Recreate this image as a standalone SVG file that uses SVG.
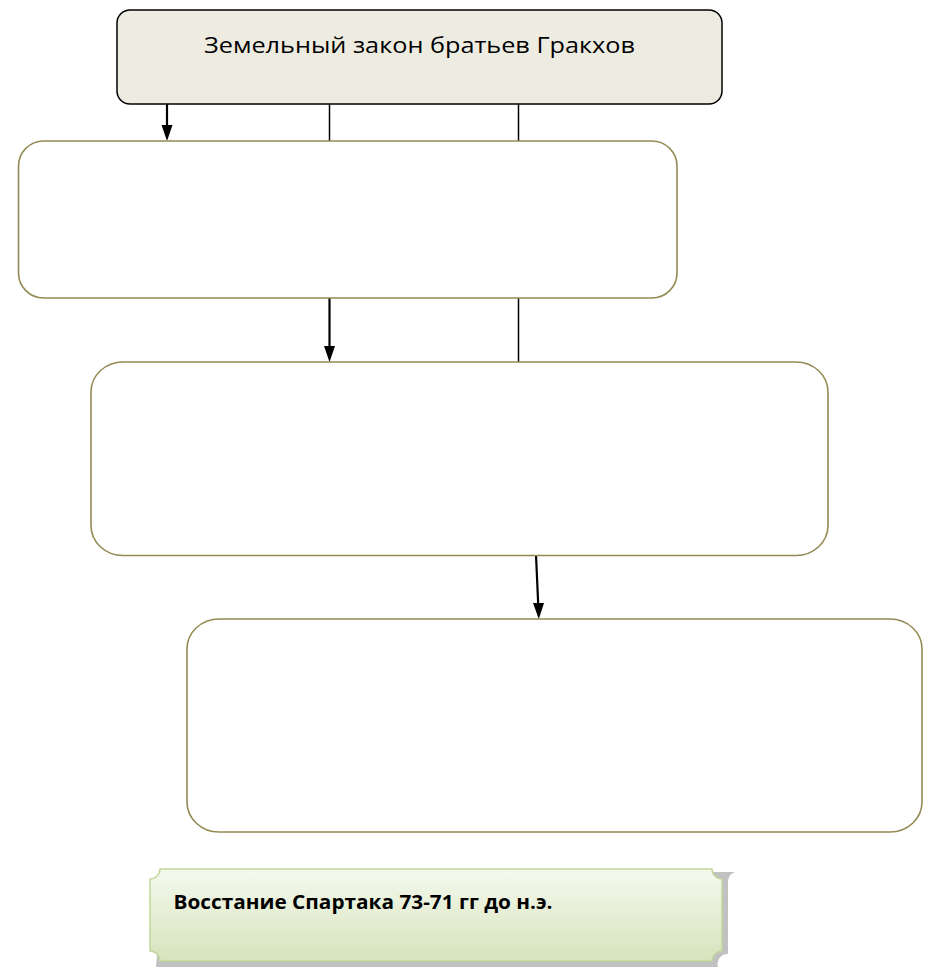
<svg xmlns="http://www.w3.org/2000/svg" width="932" height="970" viewBox="0 0 932 970">
  <defs>
    <linearGradient id="grn" x1="0" y1="0" x2="0" y2="1">
      <stop offset="0" stop-color="#f5f9ee"/>
      <stop offset="1" stop-color="#d6e3bc"/>
    </linearGradient>
    <style>
      .box { fill: #ffffff; stroke: #948a54; stroke-width: 1.6; }
      .top { fill: #eeece1; stroke: #000; stroke-width: 1.5; }
      .ln { stroke: #000; stroke-width: 1.5; fill: none; }
      .ar { stroke: #000; stroke-width: 2.2; fill: none; }
      .hd { fill: #000; }
      .t { font-family: "Open Sans", "Liberation Sans", sans-serif; fill: #000; }
    </style>
  </defs>
  <rect width="932" height="970" fill="#ffffff"/>

  <g id="connectors">
    <line class="ar" x1="167" y1="104" x2="167" y2="126" />
    <path class="hd" d="M161.5,125 L172.5,125 L167,141 Z"/>
    <line class="ln" x1="329.5" y1="104" x2="329.5" y2="141"/>
    <line class="ln" x1="518.5" y1="104" x2="518.5" y2="141"/>
    <line class="ar" x1="329.5" y1="298" x2="329.5" y2="347"/>
    <path class="hd" d="M324,346 L335,346 L329.5,362 Z"/>
    <line class="ln" x1="518.5" y1="298" x2="518.5" y2="362"/>
    <line class="ar" x1="536" y1="555" x2="538.2" y2="604"/>
    <path class="hd" d="M533,603 L544,603 L538.8,619 Z"/>
  </g>

  <g id="node-top">
    <rect class="top" x="117" y="10" width="605" height="94" rx="13" ry="13"/>
    <text class="t" x="419.5" y="53" font-size="21" text-anchor="middle" textLength="431" lengthAdjust="spacingAndGlyphs">Земельный закон братьев Гракхов</text>
  </g>

  <g id="node-2">
    <rect class="box" x="18.5" y="141" width="658.5" height="157" rx="25" ry="25"/>
  </g>

  <g id="node-3">
    <rect class="box" x="91" y="362" width="737" height="193.5" rx="32" ry="30"/>
  </g>

  <g id="node-4">
    <rect class="box" x="187" y="619" width="735" height="213" rx="32" ry="30"/>
  </g>

  <g id="node-spartacus">
    <path d="M163,872 L735,872 A10,10 0 0 0 728,882 L728,954 A10,10 0 0 0 718,967 L156,967 Z" fill="#a6a6a6" opacity="0.7"/>
    <path d="M160,869 L712,869 A10,10 0 0 0 722,879 L722,951 A10,10 0 0 0 712,961 L160,961 A10,10 0 0 0 150,951 L150,879 A10,10 0 0 0 160,869 Z" fill="url(#grn)" stroke="#c3d69b" stroke-width="1.5"/>
    <text class="t" x="363" y="909" font-size="20" font-weight="bold" text-anchor="middle" textLength="379" lengthAdjust="spacingAndGlyphs">Восстание Спартака 73-71 гг до н.э.</text>
  </g>
</svg>
